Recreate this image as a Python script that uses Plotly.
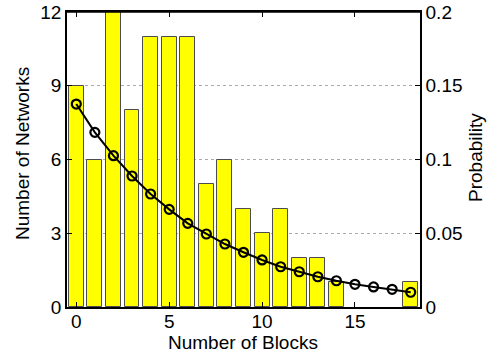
import plotly.graph_objects as go

blocks = list(range(19))
networks = [9, 6, 12, 8, 11, 11, 11, 5, 6, 4, 3, 4, 2, 2, 1, 0, 0, 0, 1]
probability = [0.1376, 0.1184, 0.1026, 0.0888, 0.0766, 0.0662, 0.0567, 0.0495,
               0.0427, 0.0371, 0.0319, 0.0273, 0.0239, 0.0205, 0.0178, 0.0154,
               0.0136, 0.0120, 0.0100]
left_ticks = [0, 3, 6, 9, 12]
right_ticks = [0, 0.05, 0.1, 0.15, 0.2]
right_tick_text = ["0", "0.05", "0.1", "0.15", "0.2"]
x_ticks = [0, 5, 10, 15]
x_title = "Number of Blocks"
y_title = "Number of Networks"
y2_title = "Probability"

font = dict(family="Liberation Sans, Arial, sans-serif", size=19, color="black")

edge_widths = [1 if v > 0 else 0 for v in networks]

fig = go.Figure()
fig.add_trace(go.Bar(
    x=blocks, y=networks, width=0.8,
    marker=dict(color="#FFFF00", line=dict(color="#4d4d4d", width=edge_widths)),
    yaxis="y", showlegend=False,
))
fig.add_trace(go.Scatter(
    x=blocks, y=probability, mode="lines+markers", yaxis="y2",
    line=dict(color="black", width=2),
    marker=dict(symbol="circle-open", size=9, color="black", line=dict(width=2.2)),
    showlegend=False,
))

L, R, T, B = 67, 67, 12, 47
W, H = 487, 354
pw, ph = W - L - R, H - T - B

fig.update_layout(
    width=W, height=H,
    margin=dict(l=L, r=R, t=T, b=B, autoexpand=False),
    paper_bgcolor="white", plot_bgcolor="white",
    font=font,
    bargap=0,
    xaxis=dict(
        range=[-0.5, 18.5], tickvals=x_ticks, ticks="inside", ticklen=5,
        tickcolor="black", showline=True, linecolor="black", linewidth=1.5,
        mirror="ticks", showgrid=False, zeroline=False, automargin=False,
        tickfont=font, ticklabelstandoff=-4,
    ),
    yaxis=dict(
        range=[0, 12], tickvals=left_ticks, ticks="inside", ticklen=5,
        tickcolor="black", showline=True, linecolor="black", linewidth=1.5,
        showgrid=True, gridcolor="#aaaaaa", griddash="dot", gridwidth=1,
        zeroline=False, automargin=False,
        tickfont=font,
    ),
    yaxis2=dict(
        range=[0, 0.2], tickvals=right_ticks, ticktext=right_tick_text,
        overlaying="y", side="right", ticks="inside", ticklen=5,
        tickcolor="black", showline=True, linecolor="black", linewidth=1.5,
        showgrid=False, zeroline=False, automargin=False,
        tickfont=font,
    ),
)
# top frame line
fig.add_shape(type="line", xref="paper", yref="paper", x0=0, x1=1, y0=1, y1=1,
              line=dict(color="black", width=1.5))

# axis titles as annotations (pixel placement)
fig.add_annotation(text=x_title, xref="paper", yref="paper",
                   x=(243 - L) / pw, y=-(342 - (T + ph)) / ph,
                   showarrow=False, font=font, xanchor="center", yanchor="middle")
fig.add_annotation(text=y_title, xref="paper", yref="paper",
                   x=(22 - L) / pw, y=(T + ph - 154) / ph, textangle=-90,
                   showarrow=False, font=font, xanchor="center", yanchor="middle")
fig.add_annotation(text=y2_title, xref="paper", yref="paper",
                   x=(475 - L) / pw, y=(T + ph - 158) / ph, textangle=-90,
                   showarrow=False, font=font, xanchor="center", yanchor="middle")

fig.write_html("out.html", config={"displayModeBar": False},
               post_script="document.body.style.margin='0';document.body.style.overflow='hidden';")
